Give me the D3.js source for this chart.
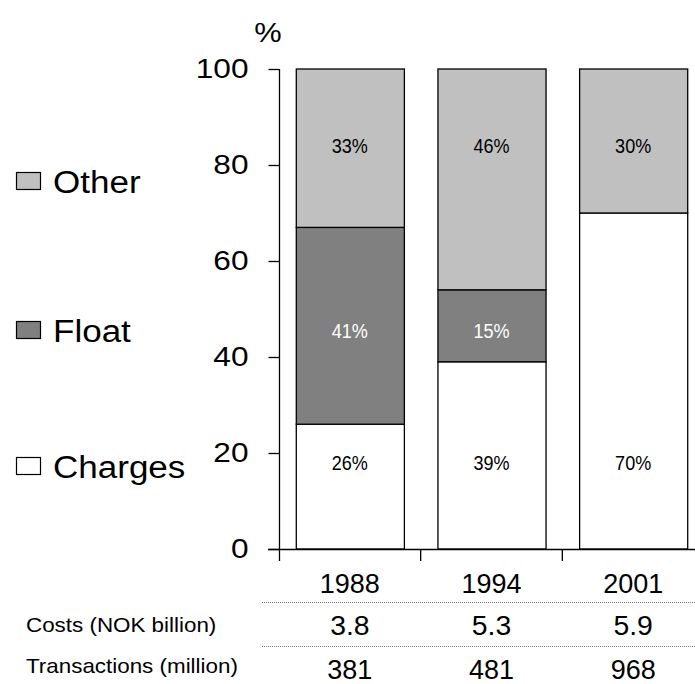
<!DOCTYPE html>
<html>
<head>
<meta charset="utf-8">
<script src="https://cdn.jsdelivr.net/npm/d3@7/dist/d3.min.js"></script>
<style>
  html, body { margin: 0; padding: 0; background: #fff; }
  svg { display: block; font-family: Arial, "Liberation Sans", Helvetica, sans-serif; }
</style>
</head>
<body>
<svg id="chart" width="695" height="684"></svg>
<script>
// ---- data ----
const years = ["1988", "1994", "2001"];
const seriesNames = ["Charges", "Float", "Other"];
const charges = [26, 39, 70];
const floatVals = [41, 15, 0];
const other = [33, 46, 30];
const yTicks = [0, 20, 40, 60, 80, 100];
const costs = ["3.8", "5.3", "5.9"];
const transactions = ["381", "481", "968"];
const rowLabels = ["Costs (NOK billion)", "Transactions (million)"];

// ---- styling / layout ----
const colors = { Charges: "#ffffff", Float: "#808080", Other: "#c0c0c0" };
const labelColors = { Charges: "#000", Float: "#fff", Other: "#000" };
const labelAt = { Charges: 18, Float: 45.5, Other: 84 };   // value-unit position of in-bar labels
const legendOrder = ["Other", "Float", "Charges"];
const legendY = [182, 331, 467];

const svg = d3.select("#chart");
const x = d3.scaleBand().domain(years).range([279, 704]).paddingInner(0.237).paddingOuter(0.1185);
const y = d3.scaleLinear().domain([0, 100]).range([549, 69]);

function stretched(parent, tx, ty, sx, size, txt, anchor) {
  return parent.append("text")
    .attr("transform", `translate(${tx},${ty}) scale(${sx},1)`)
    .attr("x", 0).attr("y", 0).attr("dy", "0.36em")
    .attr("text-anchor", anchor || "start")
    .attr("font-size", size)
    .text(txt);
}

const valuesBy = { Charges: charges, Float: floatVals, Other: other };
const table = years.map((yr, i) => {
  const row = { year: yr };
  seriesNames.forEach(s => row[s] = valuesBy[s][i]);
  return row;
});
const stack = d3.stack().keys(seriesNames)(table);

// bars
const g = svg.append("g");
stack.forEach(layer => {
  layer.forEach((d, i) => {
    if (d[1] - d[0] <= 0) return;
    g.append("rect")
      .attr("x", x(years[i]) + 0.5)
      .attr("y", y(d[1]))
      .attr("width", x.bandwidth())
      .attr("height", y(d[0]) - y(d[1]))
      .attr("fill", colors[layer.key])
      .attr("stroke", "#000")
      .attr("stroke-width", 1.3);
  });
});
stack.forEach(layer => {
  layer.forEach((d, i) => {
    if (d[1] - d[0] <= 0) return;
    stretched(g, x(years[i]) + x.bandwidth() / 2, y(labelAt[layer.key]), 0.86, 21,
      Math.round(d[1] - d[0]) + "%", "middle")
      .attr("fill", labelColors[layer.key]);
  });
});

// y axis
const yAxis = d3.axisLeft(y).tickValues(yTicks).tickSize(11).tickPadding(20).tickSizeOuter(0);
const ya = svg.append("g").attr("transform", "translate(279.5,0)").call(yAxis);
ya.select(".domain").remove();
ya.append("line").attr("x1", 0).attr("x2", 0).attr("y1", y(100)).attr("y2", 561).attr("stroke", "#000").attr("stroke-width", 1.3);
ya.selectAll(".tick line").attr("stroke", "#000").attr("stroke-width", 1.3);
ya.selectAll(".tick text")
  .attr("x", 0).attr("transform", "translate(-31,0) scale(1.13,1)")
  .attr("font-size", 28).attr("fill", "#000").attr("font-family", "Arial, 'Liberation Sans', sans-serif");

// x axis line + boundary ticks
svg.append("line").attr("x1", 268).attr("x2", 695).attr("y1", y(0) + 0.5).attr("y2", y(0) + 0.5)
  .attr("stroke", "#000").attr("stroke-width", 1.3);
years.slice(1).forEach(yr => {
  const bx = x(yr) - x.step() * x.paddingInner() / 2;
  svg.append("line").attr("x1", bx).attr("x2", bx).attr("y1", y(0)).attr("y2", 561)
    .attr("stroke", "#000").attr("stroke-width", 1.3);
});

// % unit
stretched(svg, 268, 32, 1.1, 28, "%", "middle");

// legend
legendOrder.forEach((s, i) => {
  svg.append("rect").attr("x", 16.5).attr("y", legendY[i] - 9.5).attr("width", 24).attr("height", 17)
    .attr("fill", colors[s]).attr("stroke", "#000").attr("stroke-width", 1.2);
  stretched(svg, 53, legendY[i], 1.13, 31, s, "start");
});

// table
const cx = yr => x(yr) + x.bandwidth() / 2;
years.forEach((yr, i) => {
  stretched(svg, cx(yr), 583, 1.0, 27, yr, "middle");
  stretched(svg, cx(yr), 625, 1.05, 27, costs[i], "middle");
  stretched(svg, cx(yr), 669, 1.0, 27, transactions[i], "middle");
});
[602, 646].forEach(ly => {
  svg.append("line").attr("x1", 262).attr("x2", 695).attr("y1", ly + 0.5).attr("y2", ly + 0.5)
    .attr("stroke", "#777").attr("stroke-width", 1).attr("stroke-dasharray", "1,1");
});
stretched(svg, 26, 625, 1.12, 20, rowLabels[0], "start");
stretched(svg, 26, 666, 1.12, 20, rowLabels[1], "start");
</script>
</body>
</html>
